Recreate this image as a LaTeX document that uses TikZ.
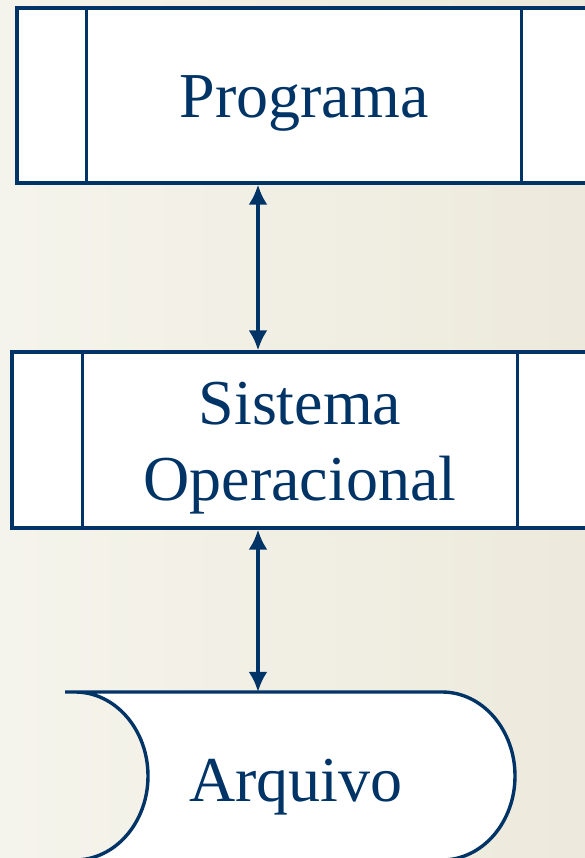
\documentclass[tikz,border=0pt]{standalone}
\usepackage{fontspec}
\setmainfont{Liberation Serif}
\newfontfamily\boxfont{Liberation Serif}
\usetikzlibrary{arrows.meta}
\definecolor{navy}{RGB}{0,51,102}
\newcommand\lowered[1]{\raisebox{-8pt}[\height][\depth]{#1}}
\tikzset{
  procbox/.style={draw=navy, line width=3.4pt, fill=white, text=navy, align=center,
    font=\boxfont\fontsize{64}{76}\selectfont},
  link/.style={draw=navy, line width=3.4pt, {Latex[length=20pt,width=19pt]}-{Latex[length=20pt,width=19pt]}}
}
\begin{document}
\begin{tikzpicture}[x=1pt,y=1pt]
\useasboundingbox (0,0) rectangle (585,858);
\shade[left color={rgb,255:red,245;green,244;blue,236}, right color={rgb,255:red,237;green,233;blue,220}] (0,0) rectangle (585,858);
% programa
\node[procbox, minimum width=574pt, minimum height=175pt, text height=58pt, text depth=14pt] (prog) at (304,762.5) {Programa};
\draw[navy, line width=3.4pt] ([xshift=71pt]prog.north west) -- ([xshift=71pt]prog.south west);
\draw[navy, line width=3.4pt] ([xshift=-71pt]prog.north east) -- ([xshift=-71pt]prog.south east);
% sistema operacional
\node[procbox, minimum width=576pt, minimum height=176pt] (so) at (300,418) {\lowered{Sistema}\\\lowered{Operacional}};
\draw[navy, line width=3.4pt] ([xshift=72pt]so.north west) -- ([xshift=72pt]so.south west);
\draw[navy, line width=3.4pt] ([xshift=-72pt]so.north east) -- ([xshift=-72pt]so.south east);
% arquivo
\draw[navy, line width=3.4pt, fill=white] (65,166) -- (442,166) arc[start angle=90, end angle=-90, x radius=73, y radius=84]
  -- (75,-2) arc[start angle=-90, end angle=90, x radius=73, y radius=84] -- cycle;
\node[text=navy, font=\boxfont\fontsize{64}{76}\selectfont, minimum height=166pt, text height=68pt, text depth=14pt] (arq) at (296,83) {Arquivo};
\coordinate (axis) at (258,0);
\draw[link] (prog.south -| axis) -- (so.north -| axis);
\draw[link] (so.south -| axis) -- (arq.north -| axis);
\end{tikzpicture}
\end{document}
